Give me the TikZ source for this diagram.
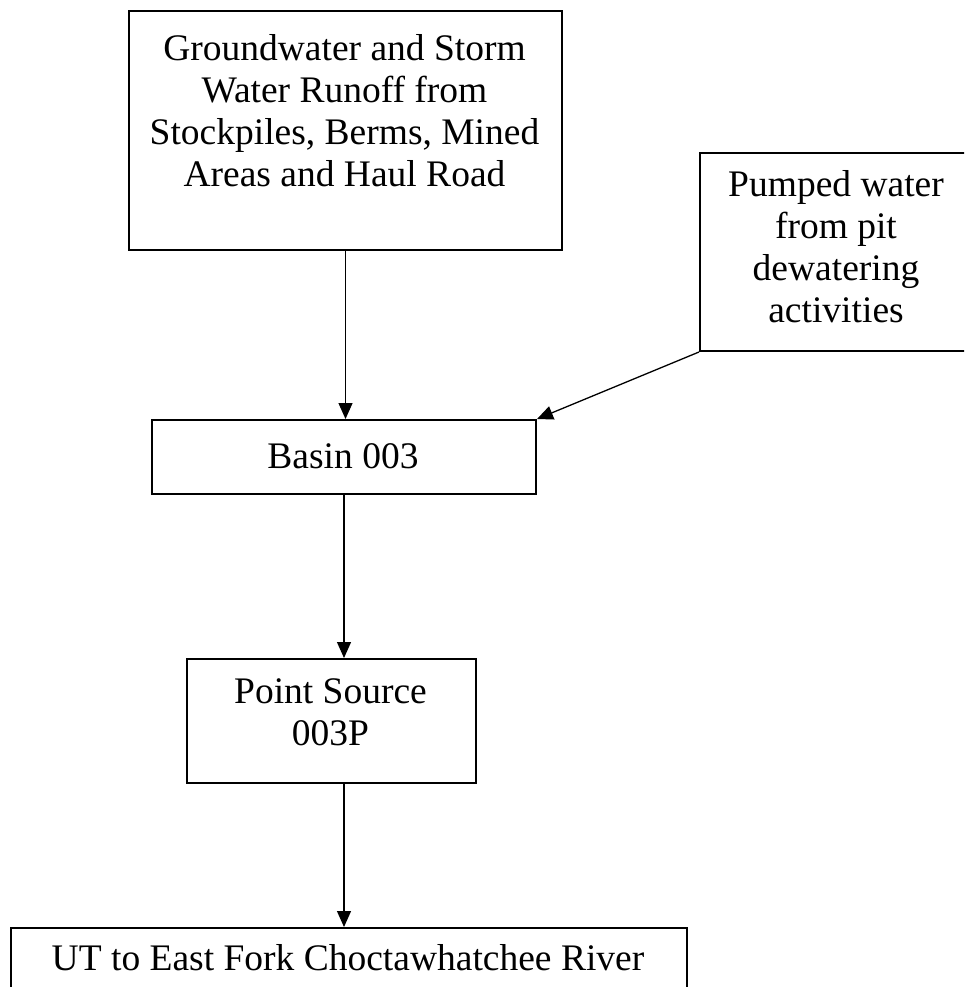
\documentclass[tikz,border=0pt]{standalone}
\usepackage{fontspec}
\setmainfont{Liberation Serif}
\usetikzlibrary{arrows.meta}
\begin{document}
\begin{tikzpicture}[x=1pt,y=-1pt,
  box/.style={draw, line width=2pt, rectangle, inner sep=0pt, anchor=north west},
  lbl/.style={align=center, font=\fontsize{37.5}{42}\selectfont, inner sep=0pt},
  flow/.style={line width=1.3pt, -{Triangle[length=16pt,width=14pt]}}]
\useasboundingbox (0,0) rectangle (964,987);
\fill[white] (0,0) rectangle (964,987);
\begin{scope}
\clip (0,0) rectangle (964,987);
\node[box, minimum width=433pt, minimum height=239pt] (src) at (128,10) {};
\node[box, minimum width=274pt, minimum height=198pt] (pump) at (699,152) {};
\node[box, minimum width=384pt, minimum height=74pt] (basin) at (151,419) {};
\node[box, minimum width=289pt, minimum height=124pt] (ps) at (186,658) {};
\node[box, minimum width=676pt, minimum height=120pt] (river) at (10,927) {};

\node[lbl] (srctext) at (344.5,110.5) {Groundwater and Storm\\Water Runoff from\\Stockpiles, Berms, Mined\\Areas and Haul Road};
\node[lbl] (pumptext) at (836,247) {Pumped water\\from pit\\dewatering\\activities};
\node[lbl] (basintext) at (343,456) {Basin 003};
\node[lbl] (pstext) at (330.5,712) {Point Source\\003P};
\node[lbl] (rivertext) at (348,958) {UT to East Fork Choctawhatchee River};

\draw[flow] (src.south) -- (src.south |- basin.north);
\draw[flow] (pump.south west) -- (basin.north east);
\draw[flow] (basin.south) -- (basin.south |- ps.north);
\draw[flow] (basin.south |- ps.south) -- (basin.south |- river.north);
\end{scope}
\end{tikzpicture}
\end{document}
